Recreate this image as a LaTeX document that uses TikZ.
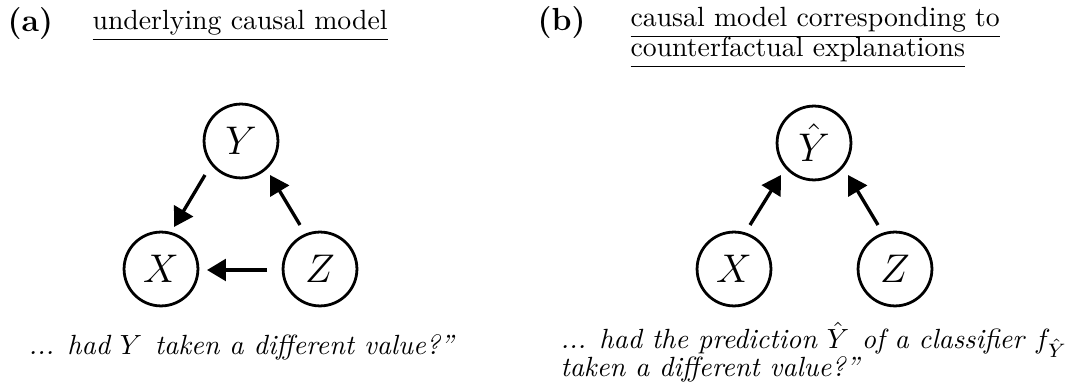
\documentclass[tikz,border=0pt]{standalone}
\usetikzlibrary{arrows.meta}
\begin{document}
\begin{tikzpicture}[x=0.36pt,y=-0.36pt,
  var/.style={circle,draw,line width=1pt,minimum size=26.6pt,inner sep=0pt,font=\fontsize{15.5}{18}\selectfont},
  edge/.style={line width=1.2pt,-{Triangle[length=6.8pt,width=7.8pt]}},
  txt/.style={anchor=base west,inner sep=0pt,font=\fontsize{10}{12}\selectfont},
  lbl/.style={anchor=base west,inner sep=0pt,font=\fontsize{11.5}{13}\selectfont\bfseries}]
\useasboundingbox (0,0) rectangle (1070,391);
% titles
\node[lbl] (la) at (7,32) {(a)};
\node[txt] (ta) at (92,30) {\underline{underlying causal model}};
\node[lbl] (lb) at (537,31) {(b)};
\node[txt] (tb1) at (630,27) {\underline{causal model corresponding to}};
\node[txt] (tb2) at (630,57) {\underline{counterfactual explanations}};
% left graph
\node[var] (Y) at (241,141) {$Y$};
\node[var] (X) at (161,269) {$X$};
\node[var] (Z) at (320,269) {$Z$};
\draw[edge] ([shift={(-36,34)}]Y.center) -- ([shift={(13,-42)}]X.center);
\draw[edge] ([shift={(-20,-44)}]Z.center) -- ([shift={(29,34)}]Y.center);
\draw[edge] ([shift={(-53,1)}]Z.center) -- ([shift={(46,1)}]X.center);
% right graph
\node[var] (Yh) at (814,143) {$\hat{Y}$};
\node[var] (X2) at (734,269) {$X$};
\node[var] (Z2) at (895,269) {$Z$};
\draw[edge] ([shift={(16,-44)}]X2.center) -- ([shift={(-33,32)}]Yh.center);
\draw[edge] ([shift={(-17,-44)}]Z2.center) -- ([shift={(34,32)}]Yh.center);
% captions
\node[txt] (ca) at (28,355) {\textit{... had $Y$\hspace{1pt}\ taken a different value?''}};
\node[txt] (cb1) at (560,349) {\textit{... had the prediction $\hat{Y}$\hspace{1pt}\ of a classifier $f_{\hat{Y}}$}};
\node[txt] (cb2) at (560,377) {\textit{taken a different value?''}};
\end{tikzpicture}
\end{document}
